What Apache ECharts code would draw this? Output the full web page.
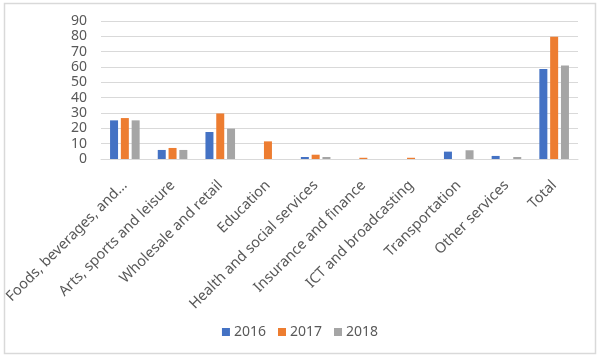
<!DOCTYPE html>
<html>
<head>
<meta charset="utf-8">
<script src="https://cdn.jsdelivr.net/npm/echarts@6/dist/echarts.min.js"></script>
<style>html,body{margin:0;padding:0;background:#fff}#c{width:600px;height:361px}</style>
</head>
<body>
<div id="c"></div>
<script>
var categories = ['Foods, beverages, and...', 'Arts, sports and leisure', 'Wholesale and retail', 'Education', 'Health and social services', 'Insurance and finance', 'ICT and broadcasting', 'Transportation', 'Other services', 'Total'];
var values2016 = [25.2, 5.9, 17.6, 0, 1.3, 0, 0, 4.8, 2.0, 58.7];
var values2017 = [26.7, 7.2, 29.7, 11.5, 2.8, 0.8, 0.8, 0, 0, 79.8];
var values2018 = [25.2, 5.9, 19.8, 0, 1.3, 0, 0, 5.7, 1.3, 60.9];
var seriesNames = ['2016', '2017', '2018'];
var yTicks = [0, 10, 20, 30, 40, 50, 60, 70, 80, 90];

var font = "'Noto Sans', sans-serif";
var chart = echarts.init(document.getElementById('c'));
var colors = ['#4472C4', '#ED7D31', '#A5A5A5'];
var data = [values2016, values2017, values2018];
chart.setOption({
  animation: false,
  color: colors,
  textStyle: {fontFamily: font},
  graphic: [{
    type: 'rect', shape: {x: 4.5, y: 3.5, width: 591, height: 350},
    style: {fill: 'none', stroke: '#d9d9d9', lineWidth: 1.5}, silent: true
  }],
  grid: {left: 101, right: 22, top: 21, bottom: 202},
  legend: {
    data: seriesNames, bottom: 17, left: 'center', itemWidth: 8, itemHeight: 8, itemGap: 12,
    icon: 'rect', textStyle: {color: '#595959', fontSize: 14, fontFamily: font, padding: [0,0,0,-1]}
  },
  xAxis: {
    type: 'category', data: categories,
    axisLine: {lineStyle: {color: '#d9d9d9', width: 1}},
    axisTick: {show: false},
    axisLabel: {rotate: 45, interval: 0, color: '#595959', fontSize: 14.5, margin: 24, fontFamily: font}
  },
  yAxis: {
    type: 'value', min: yTicks[0], max: yTicks[yTicks.length - 1], interval: 10,
    axisLine: {show: false}, axisTick: {show: false},
    splitLine: {lineStyle: {color: '#d9d9d9', width: 1}},
    axisLabel: {color: '#595959', fontSize: 14, margin: 14, fontFamily: font}
  },
  series: seriesNames.map(function (n, i) {
    return {name: n, type: 'bar', data: data[i], barWidth: 8, barGap: '35%'};
  })
});
</script>
</body>
</html>
